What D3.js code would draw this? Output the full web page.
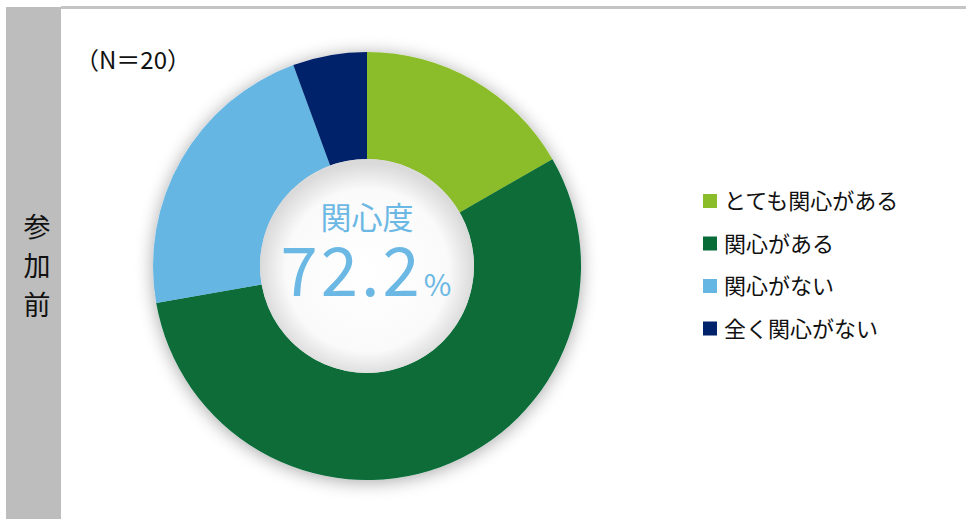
<!DOCTYPE html>
<meta charset="utf-8">
<script src="https://d3js.org/d3.v7.min.js"></script>
<style>
  body { margin: 0; background: #fff; }
  text { font-family: "Noto Sans CJK JP", "Noto Sans", sans-serif; }
</style>
<div id="my_dataviz"></div>
<script>

// data (share of respondents, %)
var categories = ["とても関心がある", "関心がある", "関心がない", "全く関心がない"];
var values = [16.7, 55.6, 22.2, 5.6];
var colors = ["#8bbd2a", "#076c38", "#66b6e4", "#00226a"];
var sideLabel = ["参", "加", "前"];
var interestLabel = "関心度";
var interestValue = "72.2";
var sampleLabel = "（N＝20）";

var width = 966, height = 519;

var svg = d3.select("#my_dataviz")
  .append("svg")
    .attr("width", width)
    .attr("height", height);

var defs = svg.append("defs");

// soft shadow round the ring
var shadow = defs.append("filter").attr("id", "shadow")
  .attr("x", "-20%").attr("y", "-20%").attr("width", "140%").attr("height", "140%");
shadow.append("feGaussianBlur").attr("in", "SourceAlpha").attr("stdDeviation", 9);
shadow.append("feOffset").attr("dx", 0).attr("dy", 2).attr("result", "blur");
shadow.append("feComponentTransfer").append("feFuncA").attr("type", "linear").attr("slope", 0.35);
var merge = shadow.append("feMerge");
merge.append("feMergeNode");
merge.append("feMergeNode").attr("in", "SourceGraphic");

// inner shadow of the hole
var holeGrad = defs.append("radialGradient").attr("id", "hole")
  .attr("cx", "50%").attr("cy", "52%").attr("r", "50%");
holeGrad.append("stop").attr("offset", "0%").attr("stop-color", "#ffffff");
holeGrad.append("stop").attr("offset", "76%").attr("stop-color", "#fafafa");
holeGrad.append("stop").attr("offset", "100%").attr("stop-color", "#dadada");

// left band and top rule
svg.append("rect")
  .attr("x", 6).attr("y", 7).attr("width", 55).attr("height", 512)
  .attr("fill", "#bdbdbd");
svg.append("rect")
  .attr("x", 61).attr("y", 6).attr("width", 905).attr("height", 3)
  .attr("fill", "#c4c4c4");

svg.append("g").selectAll("text")
  .data(sideLabel)
  .enter()
  .append("text")
    .attr("x", 37)
    .attr("y", function(d, i) { return 237 + i * 39; })
    .attr("text-anchor", "middle")
    .attr("font-size", 27)
    .attr("fill", "#111")
    .text(function(d) { return d; });

svg.append("text")
  .attr("x", 75).attr("y", 69)
  .attr("font-size", 24)
  .attr("fill", "#111")
  .text(sampleLabel);

// donut
var cx = 367, cy = 266, outerR = 214, innerR = 107;

var pie = d3.pie().sort(null).value(function(d) { return d; });
var arc = d3.arc().innerRadius(innerR).outerRadius(outerR);

var g = svg.append("g")
  .attr("transform", "translate(" + cx + "," + cy + ")");

g.append("g")
  .attr("filter", "url(#shadow)")
  .selectAll("path")
  .data(pie(values))
  .enter()
  .append("path")
    .attr("d", arc)
    .attr("fill", function(d, i) { return colors[i]; });

g.append("circle")
  .attr("r", innerR)
  .attr("fill", "url(#hole)");

g.append("text")
  .attr("x", 0).attr("y", -37)
  .attr("text-anchor", "middle")
  .attr("font-size", 31)
  .attr("fill", "#6bb8e4")
  .text(interestLabel);

var big = g.append("text")
  .attr("x", -1).attr("y", 30)
  .attr("text-anchor", "middle")
  .attr("fill", "#6bb8e4");
big.append("tspan").attr("font-size", 67).attr("letter-spacing", 3).text(interestValue);
big.append("tspan").attr("font-size", 30).attr("dx", 1).text("%");

// legend
var legend = svg.append("g").selectAll("g")
  .data(categories)
  .enter()
  .append("g")
    .attr("transform", function(d, i) { return "translate(703," + (201 + i * 42.5) + ")"; });

legend.append("rect")
  .attr("x", 0).attr("y", -7)
  .attr("width", 14).attr("height", 14)
  .attr("fill", function(d, i) { return colors[i]; });

legend.append("text")
  .attr("x", 21).attr("y", 8)
  .attr("font-size", 22)
  .attr("fill", "#111")
  .text(function(d) { return d; });

</script>
